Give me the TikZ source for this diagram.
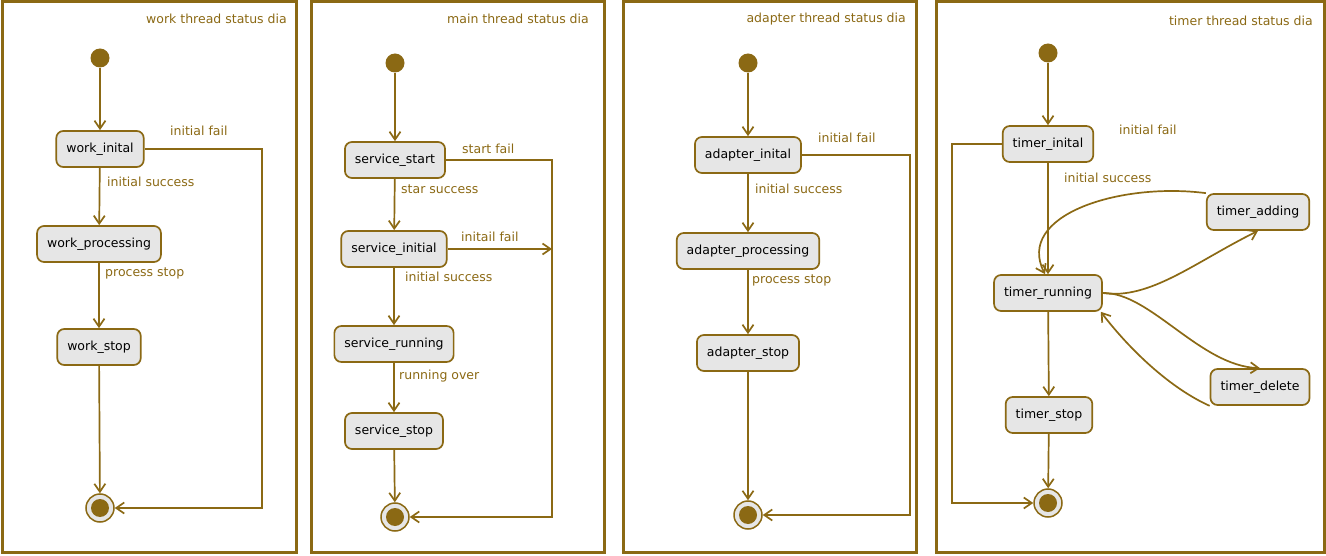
\documentclass[tikz,border=0pt]{standalone}
\usepackage{fontspec}
\setmainfont{DejaVu Sans}
\usetikzlibrary{arrows.meta}
\definecolor{umlbrown}{HTML}{8B6914}
\definecolor{umlgrey}{HTML}{E6E6E6}
\begin{document}
\begin{tikzpicture}[x=1pt,y=-1pt,
        frame/.style={draw=umlbrown,line width=3pt},
        title/.style={text=umlbrown,anchor=east,inner sep=0pt,font=\fontsize{12.5}{14}\selectfont},
        state/.style={draw=umlbrown,fill=umlgrey,line width=1.7pt,rounded corners=7pt,
            minimum height=36pt,inner xsep=10pt,font=\fontsize{12.5}{14}\selectfont},
        start/.style={circle,fill=umlbrown,minimum size=19pt,inner sep=0pt},
        stop/.style={circle,draw=umlbrown,fill=umlgrey,line width=1.5pt,minimum size=28pt,inner sep=0pt,
            path picture={\fill[umlbrown] (path picture bounding box.center) circle (9pt);}},
        trans/.style={draw=umlbrown,line width=1.7pt,-{Straight Barb[length=8pt,width=11pt]}},
        lbl/.style={text=umlbrown,anchor=west,inner sep=0pt,font=\fontsize{12.5}{14}\selectfont}]
    \useasboundingbox (0,0) rectangle (1326,556);

    % work thread
    \draw[frame] (2,2) rectangle (296,552);
    \node[title] at (287,19) {work thread status dia};
    \node[start] (w0) at (100,58) {};
    \node[state] (w1) at (100,149) {work\_inital};
    \node[state] (w2) at (99,244) {work\_processing};
    \node[state] (w3) at (99,347) {work\_stop};
    \node[stop] (w9) at (100,508) {};
    \coordinate (wc) at (262,508);
    \draw[trans] (w0) -- (w1);
    \draw[trans] (w1) -- (w2);
    \draw[trans] (w2) -- (w3);
    \draw[trans] (w3) -- (w9);
    \draw[trans] (w1) -| (wc) -- (w9);
    \node[lbl] at (170,131) {initial fail};
    \node[lbl] at (107,182) {initial success};
    \node[lbl] at (105,273) {process stop};

    % main thread
    \draw[frame] (311,2) rectangle (604,552);
    \node[title] at (589,19) {main thread status dia};
    \node[start] (s0) at (395,63) {};
    \node[state] (s1) at (395,160) {service\_start};
    \node[state] (s2) at (394,249) {service\_initial};
    \node[state] (s3) at (394,344) {service\_running};
    \node[state] (s4) at (394,431) {service\_stop};
    \node[stop] (s9) at (395,517) {};
    \coordinate (sc) at (552,517);
    \coordinate (sj) at (552,249);
    \draw[trans] (s0) -- (s1);
    \draw[trans] (s1) -- (s2);
    \draw[trans] (s2) -- (s3);
    \draw[trans] (s3) -- (s4);
    \draw[trans] (s4) -- (s9);
    \draw[trans] (s1) -| (sc) -- (s9);
    \draw[trans] (s2) -- (sj);
    \node[lbl] at (462,149) {start fail};
    \node[lbl] at (401,189) {star success};
    \node[lbl] at (461,237) {initail fail};
    \node[lbl] at (405,277) {initial success};
    \node[lbl] at (399,376) {running over};

    % adapter thread
    \draw[frame] (623,2) rectangle (916,552);
    \node[title] at (906,19) {adapter thread status dia};
    \node[start] (a0) at (748,63) {};
    \node[state] (a1) at (748,155) {adapter\_inital};
    \node[state] (a2) at (748,251) {adapter\_processing};
    \node[state] (a3) at (748,353) {adapter\_stop};
    \node[stop] (a9) at (748,515) {};
    \coordinate (ac) at (910,515);
    \draw[trans] (a0) -- (a1);
    \draw[trans] (a1) -- (a2);
    \draw[trans] (a2) -- (a3);
    \draw[trans] (a3) -- (a9);
    \draw[trans] (a1) -| (ac) -- (a9);
    \node[lbl] at (818,138) {initial fail};
    \node[lbl] at (755,189) {initial success};
    \node[lbl] at (752,280) {process stop};

    % timer thread
    \draw[frame] (936,2) rectangle (1324,552);
    \node[title] at (1313,21) {timer thread status dia};
    \node[start] (t0) at (1048,53) {};
    \node[state] (t1) at (1048,144) {timer\_inital};
    \node[state] (t2) at (1048,293) {timer\_running};
    \node[state] (t3) at (1258,212) {timer\_adding};
    \node[state] (t4) at (1260,387) {timer\_delete};
    \node[state] (t5) at (1049,415) {timer\_stop};
    \node[stop] (t9) at (1048,503) {};
    \coordinate (tc) at (952,503);
    \draw[trans] (t0) -- (t1);
    \draw[trans] (t1) -- (t2);
    \draw[trans] (t2) -- (t5);
    \draw[trans] (t5) -- (t9);
    \draw[trans] (t1) -| (tc) -- (t9);
    \draw[trans] (t3.north west) .. controls (1120,182) and (1015,215) .. ([xshift=-3pt]t2.north);
    \draw[trans] (t2.east) .. controls (1150,300) and (1195,262) .. (t3.south);
    \draw[trans] (t2.east) .. controls (1150,292) and (1200,366) .. (t4.north);
    \draw[trans] (t4.south west) .. controls (1170,388) and (1130,350) .. ([xshift=-2pt]t2.south east);
    \node[lbl] at (1119,130) {initial fail};
    \node[lbl] at (1064,178) {initial success};
\end{tikzpicture}
\end{document}
